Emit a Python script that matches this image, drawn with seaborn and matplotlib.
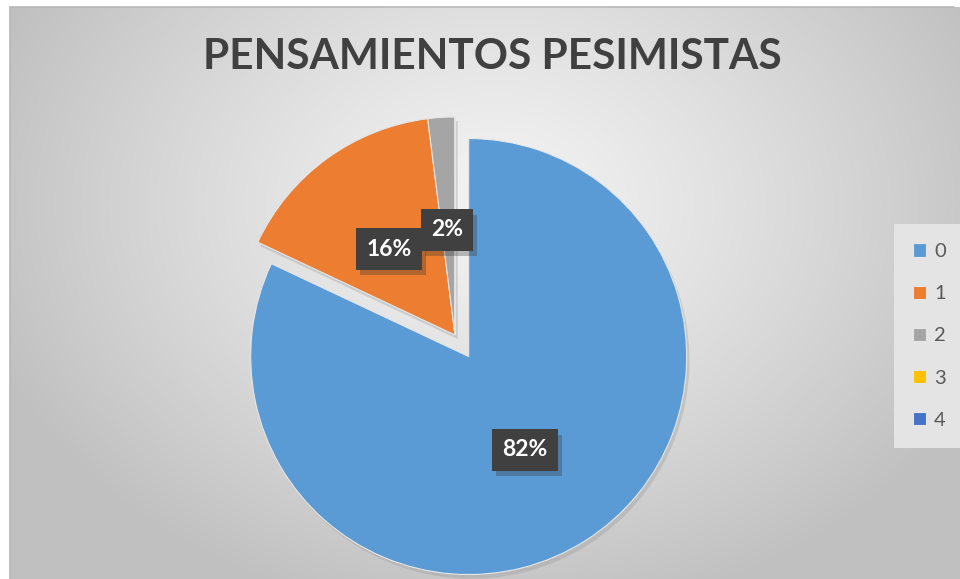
import numpy as np
import matplotlib
matplotlib.use("Agg")
import matplotlib.pyplot as plt
import matplotlib.patheffects as pe
import seaborn as sns

# ---- data ----
categories = ["0", "1", "2", "3", "4"]
counts = [41, 8, 1, 0, 0]
colors = ["#5B9BD5", "#ED7D31", "#A5A5A5", "#FFC000", "#4472C4"]
title = "PENSAMIENTOS PESIMISTAS"

sns.set_theme(style="white")
plt.rcParams['font.family'] = ['Lato', 'DejaVu Sans']

W, H = 960, 579
fig = plt.figure(figsize=(W / 100, H / 100), dpi=100)
fig.patch.set_facecolor("white")

# background gradient panel
bg = fig.add_axes([0, 0, 1, 1])
yy, xx = np.mgrid[0:H, 0:W]
r = np.sqrt(((xx - 490) / 540.0) ** 2 + ((yy - 200) / 420.0) ** 2)
r = np.clip(r, 0, 1)
v = 0.955 - 0.2 * r ** 1.2
img = np.dstack([v, v, v])
bg.imshow(img, extent=(10, W, H, 7), aspect="auto", zorder=0)
bg.set_xlim(0, W)
bg.set_ylim(H, 0)
bg.axis("off")
bg.plot([10, 10], [7, H], color="#b8b8b8", lw=1.2, zorder=1)
bg.plot([10, 954], [7, 7], color="#b8b8b8", lw=1.2, zorder=1)

# pie axes in pixel coordinates
ax = fig.add_axes([0, 0, 1, 1])
ax.axis("off")
ax.patch.set_alpha(0)

def fmt(p):
    return f"{p:.0f}%" if p > 0.5 else ""

explode = [25.5, 0, 0, 0, 0]
wedges, texts, autotexts = ax.pie(
    counts, colors=colors, startangle=90, counterclock=False,
    center=(455, H - 335), radius=218, explode=explode,
    autopct=fmt, pctdistance=0.5,
    wedgeprops=dict(linewidth=0.8, edgecolor="#e6e6e6"),
    textprops=dict(color="white", fontsize=16.5, fontweight="bold"),
)
ax.set_xlim(0, W)
ax.set_ylim(0, H)
ax.set_aspect("equal")
for w in wedges:
    w.set_path_effects([pe.SimplePatchShadow(offset=(2, -3), shadow_rgbFace="#9a9a9a", alpha=0.35), pe.Normal()])
for t in autotexts:
    t.set_bbox(dict(boxstyle="square,pad=0.45", facecolor="#404040",
                    edgecolor="none"))
    t.get_bbox_patch().set_path_effects(
        [pe.SimplePatchShadow(offset=(3, -4), shadow_rgbFace="#303030", alpha=0.3), pe.Normal()])
autotexts[2].set_position((447, H - 230))
autotexts[1].set_position((389, H - 249))
autotexts[0].set_position((525, H - 450))

fig.text(0.513, 1 - 57 / H, title, ha="center", va="center",
         fontsize=30.5, fontweight="bold", color="#404040")

leg = ax.legend(wedges, categories, loc="center left",
                bbox_to_anchor=(900 / W, 1 - 336 / H),
                bbox_transform=fig.transFigure,
                fontsize=14.5, frameon=True, framealpha=1,
                handlelength=0.65, handleheight=0.65,
                handletextpad=0.4, labelspacing=1.25, borderpad=0.65,
                borderaxespad=0)
leg.get_frame().set_facecolor("#e4e4e4")
leg.get_frame().set_edgecolor("none")
leg.get_frame().set_boxstyle("square")
for h in leg.legend_handles:
    h.set_path_effects([])
for t in leg.get_texts():
    t.set_color("#595959")

fig.savefig("out.png", dpi=100)
